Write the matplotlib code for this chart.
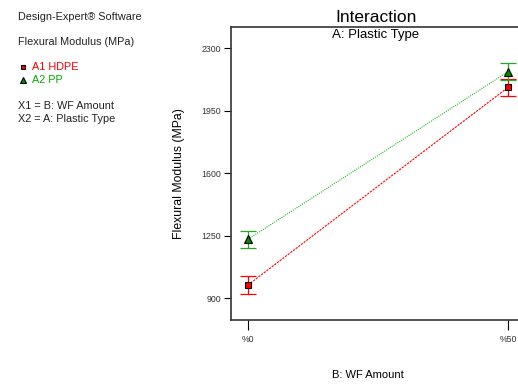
import numpy as np
import matplotlib.pyplot as plt

plt.rcParams['font.family'] = ['Liberation Sans', 'DejaVu Sans']

# Flexural modulus vs wood flour amount, one line per plastic type
wf_labels = ['%0', '%50']
hdpe_mean = [973, 2080]
hdpe_err = [48, 49]
pp_mean = [1229, 2168]
pp_err = [48, 48]

x = np.arange(len(wf_labels))

fig = plt.figure(figsize=(5.18, 3.85), dpi=100)
ax = fig.add_axes([231 / 518, 1 - 320 / 385, 294 / 518, 293 / 385])

ax.plot(x, hdpe_mean, color='#ff0000', lw=0.8, ls=(0, (2, 1)))
ax.errorbar(x, hdpe_mean, yerr=hdpe_err, fmt='none', ecolor='#ff0000',
            elinewidth=0.9, capsize=6, capthick=0.9)
ax.plot(x, hdpe_mean, 's', ms=5, mfc='#ff0000', mec='black', mew=0.8)

ax.plot(x, pp_mean, color='#22bb22', lw=0.8, ls=(0, (1, 1)))
ax.errorbar(x, pp_mean, yerr=pp_err, fmt='none', ecolor='#22aa22',
            elinewidth=0.9, capsize=6, capthick=0.9)
ax.plot(x, pp_mean, '^', ms=5.5, mfc='#008800', mec='black', mew=0.8)

ax.set_xlim(-0.065, 1.065)
ax.set_ylim(777, 2418)
ax.set_yticks([900, 1250, 1600, 1950, 2300])
ax.set_xticks(x)
ax.set_xticklabels(wf_labels)
ax.tick_params(axis='y', direction='out', length=5, width=0.8, labelsize=6.3,
               pad=2, labelcolor='#333333')
ax.tick_params(axis='x', direction='out', length=7, width=0.8, labelsize=6.3,
               pad=4, labelcolor='#333333')
for s in ax.spines.values():
    s.set_linewidth(1.2)
    s.set_color('#333333')

ax.set_ylabel('Flexural Modulus (MPa)', fontsize=8.8, labelpad=12)
fig.text(368 / 518, 1 - 375 / 385, 'B: WF Amount', fontsize=8, ha='center', va='center')
fig.text(376 / 518, 1 - 17 / 385, 'Interaction', fontsize=12.5, ha='center', va='center')
fig.text(376 / 518, 1 - 35 / 385, 'A: Plastic Type', fontsize=9.5, ha='center', va='center')

# side notes
fs = 7.8
fig.text(18 / 518, 1 - 17 / 385, 'Design-Expert® Software', fontsize=fs, va='center', color='#222222')
fig.text(18 / 518, 1 - 42 / 385, 'Flexural Modulus (MPa)', fontsize=fs, va='center', color='#222222')
fig.text(32 / 518, 1 - 67 / 385, 'A1 HDPE', fontsize=fs, va='center', color='#ff0000')
fig.text(32 / 518, 1 - 80 / 385, 'A2 PP', fontsize=fs, va='center', color='#00aa00')
fig.add_artist(plt.Line2D([23 / 518], [1 - 67 / 385], marker='s', ms=3.5,
                          mfc='#ff0000', mec='black', mew=0.8, transform=fig.transFigure))
fig.add_artist(plt.Line2D([23 / 518], [1 - 80 / 385], marker='^', ms=4,
                          mfc='#008800', mec='black', mew=0.8, transform=fig.transFigure))
fig.text(18 / 518, 1 - 106 / 385, 'X1 = B: WF Amount', fontsize=fs, va='center', color='#222222')
fig.text(18 / 518, 1 - 119 / 385, 'X2 = A: Plastic Type', fontsize=fs, va='center', color='#222222')

fig.savefig('out.png', dpi=100)
